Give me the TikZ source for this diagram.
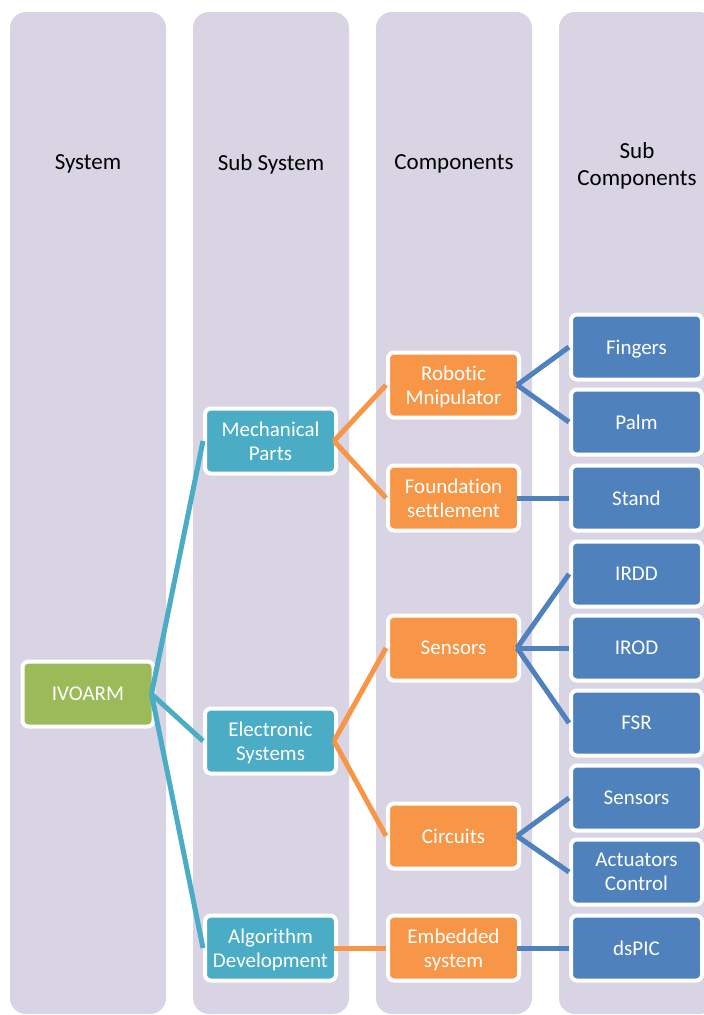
\documentclass[tikz,border=0pt]{standalone}
\usepackage{fontspec}
\setmainfont{Carlito}[Ligatures=NoCommon]
\definecolor{lane}{RGB}{216,212,227}
\definecolor{sysgreen}{RGB}{155,187,89}
\definecolor{subteal}{RGB}{75,172,198}
\definecolor{comporange}{RGB}{247,150,70}
\definecolor{partblue}{RGB}{79,129,189}
\tikzset{
  lanebox/.style={fill=lane, rounded corners=16pt},
  header/.style={font=\fontsize{23}{27}\selectfont, align=center, text=black},
  box/.style={draw=white, line width=4pt, rounded corners=6pt,
    minimum width=131pt, minimum height=65pt, inner sep=0pt, outer sep=0pt,
    text depth=0pt, text=white, align=center, font=\fontsize{21}{24}\selectfont},
  sysbox/.style={box, fill=sysgreen},
  subbox/.style={box, fill=subteal},
  compbox/.style={box, fill=comporange},
  partbox/.style={box, fill=partblue},
  link/.style={line width=5pt}
}
\begin{document}
\begin{tikzpicture}[x=1pt, y=-1pt]
  \useasboundingbox (0,0) rectangle (704,1015);
  \clip (0,0) rectangle (704,1015);

  % lanes
  \fill[lanebox] (10,12) rectangle (166,1014);
  \fill[lanebox] (193,12) rectangle (349,1014);
  \fill[lanebox] (376,12) rectangle (532,1014);
  \fill[lanebox] (559,12) rectangle (715,1014);

  % lane headings
  \node[header] (hsys)  at (88,164)  {System};
  \node[header] (hsub)  at (271,164) {Sub System};
  \node[header] (hcomp) at (454,164) {Components};
  \node[header] (hpart) at (637,166) {Sub\\Components};

  % system
  \node[sysbox] (ivoarm) at (88,694) {IVOARM};

  % sub systems
  \node[subbox] (mech) at (270.5,441) {Mechanical\\Parts};
  \node[subbox] (elec) at (270.5,741) {Electronic\\Systems};
  \node[subbox] (algo) at (270.5,948) {Algorithm\\Development};

  % components
  \node[compbox] (robot) at (453.5,385) {Robotic\\Mnipulator};
  \node[compbox] (found) at (453.5,498) {Foundation\\settlement};
  \node[compbox] (sens)  at (453.5,648) {Sensors};
  \node[compbox] (circ)  at (453.5,836) {Circuits};
  \node[compbox] (embed) at (453.5,948) {Embedded\\system};

  % sub components
  \node[partbox] (fing)  at (636.5,347) {Fingers};
  \node[partbox] (palm)  at (636.5,422) {Palm};
  \node[partbox] (stand) at (636.5,498) {Stand};
  \node[partbox] (irdd)  at (636.5,574) {IRDD};
  \node[partbox] (irod)  at (636.5,648) {IROD};
  \node[partbox] (fsr)   at (636.5,723) {FSR};
  \node[partbox] (csens) at (636.5,798) {Sensors};
  \node[partbox] (act)   at (636.5,872) {Actuators\\Control};
  \node[partbox] (dspic) at (636.5,948) {dsPIC};

  % connectors: system to sub systems
  \foreach \c in {mech,elec,algo}
    \draw[link, subteal] ([xshift=-2pt]ivoarm.east) -- ([xshift=-2pt]\c.west);

  % sub systems to components
  \foreach \p/\c in {mech/robot, mech/found, elec/sens, elec/circ, algo/embed}
    \draw[link, comporange] ([xshift=-2pt]\p.east) -- ([xshift=-2pt]\c.west);

  % components to sub components
  \foreach \p/\c in {robot/fing, robot/palm, found/stand, sens/irdd, sens/irod,
                     sens/fsr, circ/csens, circ/act, embed/dspic}
    \draw[link, partblue] ([xshift=-2pt]\p.east) -- ([xshift=-2pt]\c.west);
\end{tikzpicture}
\end{document}
